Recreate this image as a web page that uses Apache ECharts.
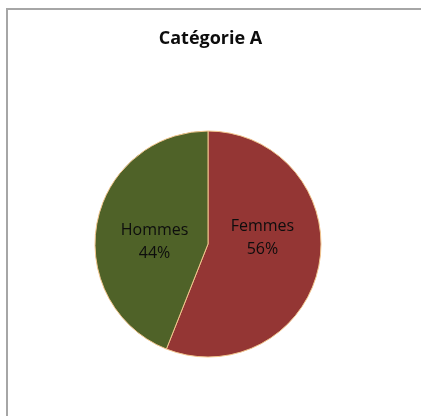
<!DOCTYPE html>
<html>
<head>
<meta charset="utf-8">
<script src="https://cdn.jsdelivr.net/npm/echarts@6/dist/echarts.min.js"></script>
<style>html,body{margin:0;padding:0;background:#fff}#c{width:421px;height:416px}</style>
</head>
<body>
<div id="c"></div>
<script>
const titleText = "Catégorie A";
const categories = ["Femmes", "Hommes"];
const values = [56, 44];
const colors = ["#943634", "#4f6228"];
const labelOffsets = [[-4, -17], [5, 9]];

const chart = echarts.init(document.getElementById('c'), null, {renderer: 'canvas'});
chart.setOption({
  animation: false,
  backgroundColor: '#ffffff',
  graphic: [{
    type: 'rect', shape: {x: 7, y: 9, width: 430, height: 420},
    style: {fill: 'none', stroke: '#a6a6a6', lineWidth: 2}, z: 0
  }],
  title: {
    text: titleText, left: 'center', top: 25,
    textStyle: {fontFamily: 'Open Sans', fontWeight: 'bold', fontSize: 18, color: '#0d0d0d'}
  },
  series: [{
    type: 'pie',
    center: [208, 244],
    radius: 113,
    startAngle: 90,
    clockwise: true,
    data: categories.map((c, i) => ({
      name: c, value: values[i],
      itemStyle: {color: colors[i]},
      label: {offset: labelOffsets[i]}
    })),
    itemStyle: {borderColor: '#f2c68e', borderWidth: 1},
    label: {
      show: true, position: 'inner',
      formatter: p => p.name + '\n' + Math.round(p.percent) + '%',
      fontFamily: 'Open Sans', fontSize: 16, lineHeight: 23, color: '#0d0d0d', align: 'center'
    },
    labelLine: {show: false},
    emphasis: {disabled: true}
  }]
});
</script>
</body>
</html>
